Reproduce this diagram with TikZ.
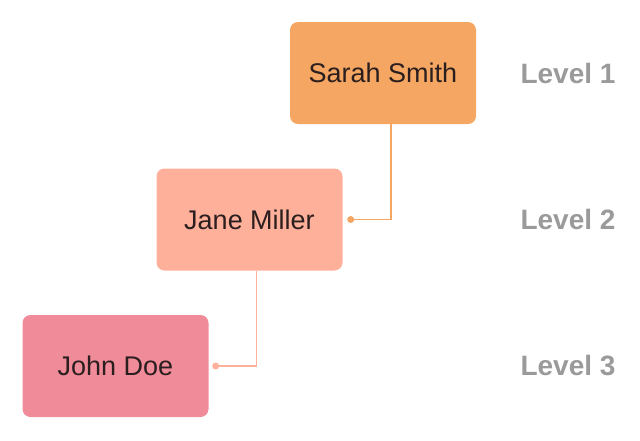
\documentclass[tikz,border=0pt]{standalone}
\usepackage{fontspec}
\setmainfont{Liberation Sans}
\usetikzlibrary{positioning, calc}
\definecolor{lvlone}{HTML}{F5A662}
\definecolor{lvltwo}{HTML}{FFB09A}
\definecolor{lvlthree}{HTML}{F08C9A}
\definecolor{lvltext}{HTML}{9A9A9A}
\definecolor{nametext}{HTML}{2A1E1E}
\tikzset{
    person/.style={rectangle, rounded corners=8pt, minimum width=186pt, minimum height=102pt,
        inner sep=0pt, font=\fontsize{27}{32}\selectfont, text=nametext},
    link/.style={line width=1.8pt},
    level/.style={font=\fontsize{28}{33}\selectfont\bfseries, text=lvltext}
}
\begin{document}
\begin{tikzpicture}[x=1pt, y=-1pt]
    \useasboundingbox (0,0) rectangle (640,440);
    % boxes
    \node[person, fill=lvlone] (sarah) at (383,73) {Sarah Smith};
    \node[person, fill=lvltwo] (jane) at (249.5,219.5) {Jane Miller};
    \node[person, fill=lvlthree] (john) at (115.5,366) {John Doe};
    % level labels
    \node[level] (l1) at (568,73) {Level 1};
    \node[level] (l2) at (568,219.5) {Level 2};
    \node[level] (l3) at (568,366) {Level 3};
    % connectors
    \coordinate (s1) at ($(sarah.south)+(8,0)$);
    \coordinate (e1) at ($(jane.east)+(8,0)$);
    \coordinate (s2) at ($(jane.south)+(7,0)$);
    \coordinate (e2) at ($(john.east)+(7,0)$);
    \draw[link, lvlone] (s1) |- (e1);
    \fill[lvlone] (e1) circle (3.5pt);
    \draw[link, lvltwo] (s2) |- (e2);
    \fill[lvltwo] (e2) circle (3.5pt);
\end{tikzpicture}
\end{document}
